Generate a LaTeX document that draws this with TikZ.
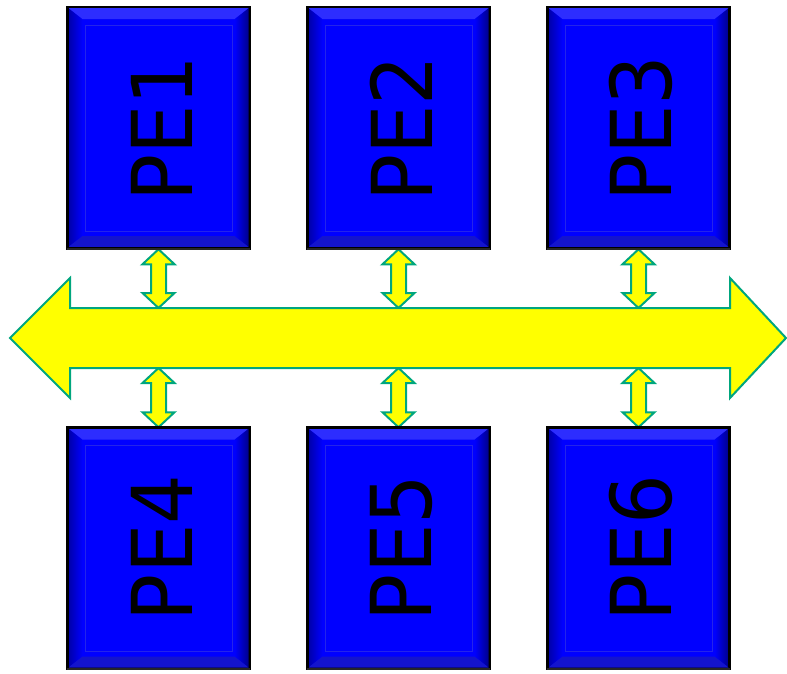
\documentclass[tikz,border=0pt]{standalone}
\usepackage{fontspec}
\setmainfont{DejaVu Sans}
\usetikzlibrary{calc}
\definecolor{busline}{RGB}{0,166,126}
\definecolor{busfill}{RGB}{255,255,0}
\definecolor{pefill}{RGB}{0,0,255}
\definecolor{petop}{RGB}{45,45,255}
\definecolor{pebot}{RGB}{20,20,205}
\definecolor{peedge}{RGB}{0,0,170}
\definecolor{peright}{RGB}{0,0,140}
\definecolor{peinner}{RGB}{35,35,235}
\tikzset{
  pebox/.style={draw=black, line width=2.5pt, fill=pefill, minimum width=180pt, minimum height=239pt, inner sep=0pt},
  petext/.style={rotate=90, anchor=south, inner sep=0pt, font=\fontsize{84}{84}\selectfont},
  blockarrow/.style={draw=busline, fill=busfill, line width=2pt, line join=miter},
}
\newcommand\pearrow[2]{%
  \path[blockarrow] (#1) -- ($(#1)+(16,15)$) -- ($(#1)+(7.5,15)$) -- ($(#2)+(7.5,-15)$) -- ($(#2)+(16,-15)$) -- (#2) -- ($(#2)+(-16,-15)$) -- ($(#2)+(-7.5,-15)$) -- ($(#1)+(-7.5,15)$) -- ($(#1)+(-16,15)$) -- cycle;}
\newcommand\pebevel[1]{%
  \coordinate (NW) at ($(#1.north west)+(1.25,1.25)$);
  \coordinate (SE) at ($(#1.south east)+(-1.25,-1.25)$);
  \coordinate (NE) at (SE |- NW);
  \coordinate (SW) at (NW |- SE);
  \shade[left color=peedge, right color=pefill] (NW) -- ($(NW)+(14,11)$) -- ($(SW)+(14,-11)$) -- (SW) -- cycle;
  \shade[left color=pefill, right color=peright] (NE) -- ($(NE)+(-14,11)$) -- ($(SE)+(-14,-11)$) -- (SE) -- cycle;
  \fill[petop] (NW) -- (NE) -- ($(NE)+(-14,11)$) -- ($(NW)+(14,11)$) -- cycle;
  \fill[pebot] (SW) -- (SE) -- ($(SE)+(-14,-11)$) -- ($(SW)+(14,-11)$) -- cycle;
  \draw[peinner, line width=1pt] ($(NW)+(17,17)$) rectangle ($(SE)+(-16,-16)$);
  \draw[black, line width=2.5pt] (#1.north west) rectangle (#1.south east);
  \draw[black!85, line width=2pt] ($(#1.south west)+(0,0.5)$) -- ($(#1.south east)+(0,0.5)$);}
\begin{document}
\begin{tikzpicture}[x=1pt, y=-1pt]
\useasboundingbox (0,0) rectangle (787,673);
% bus coordinates
\coordinate (bt1) at (158.5,308); \coordinate (bt2) at (398.5,308); \coordinate (bt3) at (638.5,308);
\coordinate (bb1) at (158.5,368); \coordinate (bb2) at (398.5,368); \coordinate (bb3) at (638.5,368);
% boxes
\node[pebox] (pe1) at (158.5,127.5) {};
\node[pebox] (pe2) at (398.5,127.5) {};
\node[pebox] (pe3) at (638.5,127.5) {};
\node[pebox] (pe4) at (158.5,548) {};
\node[pebox] (pe5) at (398.5,548) {};
\node[pebox] (pe6) at (638.5,548) {};
% small arrows
\pearrow{$(pe1.south)+(0,1)$}{bt1}
\pearrow{$(pe2.south)+(0,1)$}{bt2}
\pearrow{$(pe3.south)+(0,1)$}{bt3}
\pearrow{bb1}{$(pe4.north)+(0,0)$}
\pearrow{bb2}{$(pe5.north)+(0,0)$}
\pearrow{bb3}{$(pe6.north)+(0,0)$}
% bevels
\pebevel{pe1}\pebevel{pe2}\pebevel{pe3}\pebevel{pe4}\pebevel{pe5}\pebevel{pe6}
% bus
\path[blockarrow] (10,338) -- (70,278) -- (70,308) -- (bt1) -- (bt2) -- (bt3) -- (730,308) -- (730,278) -- (786,338) -- (730,398) -- (730,368) -- (bb3) -- (bb2) -- (bb1) -- (70,368) -- (70,398) -- cycle;
% labels
\node[petext] (t1) at ($(pe1.center)+(34.5,1)$) {\scalebox{0.93}[1]{PE1}};
\node[petext] (t2) at ($(pe2.center)+(34.5,1)$) {\scalebox{0.93}[1]{PE2}};
\node[petext] (t3) at ($(pe3.center)+(34.5,1)$) {\scalebox{0.93}[1]{PE3}};
\node[petext] (t4) at ($(pe4.center)+(34.5,0)$) {\scalebox{0.93}[1]{PE4}};
\node[petext] (t5) at ($(pe5.center)+(34.5,0)$) {\scalebox{0.93}[1]{PE5}};
\node[petext] (t6) at ($(pe6.center)+(34.5,0)$) {\scalebox{0.93}[1]{PE6}};
\end{tikzpicture}
\end{document}
